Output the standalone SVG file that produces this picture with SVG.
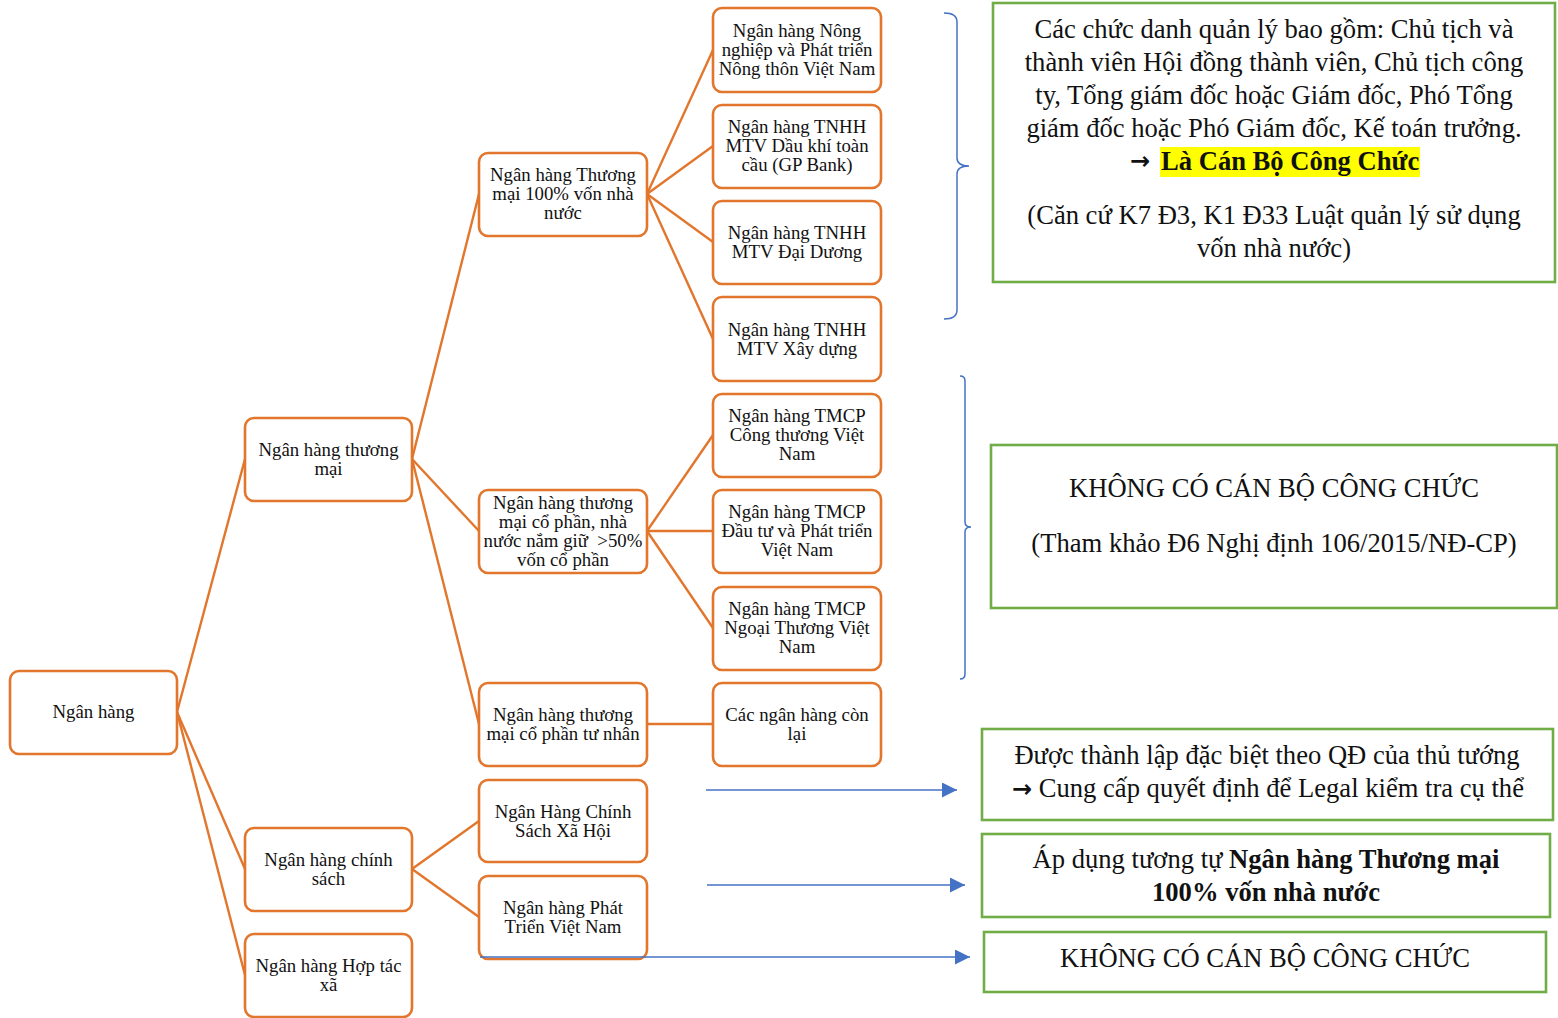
<svg xmlns="http://www.w3.org/2000/svg" width="1558" height="1018" viewBox="0 0 1558 1018">
<style>
.n rect{fill:#fff;stroke:#E1762C;stroke-width:2.6}
.n text{font-family:"Liberation Serif","Times New Roman",serif;font-size:18.8px;fill:#111;text-anchor:middle}
.g rect{fill:#fff;stroke:#70AD47;stroke-width:2.6}
.g text{font-family:"Liberation Serif","Times New Roman",serif;font-size:26.6px;fill:#111;text-anchor:middle}
.g .ar{font-family:"DejaVu Sans",sans-serif;font-weight:bold;font-size:24px}
.c line{stroke:#E1762C;stroke-width:2.4}
.a line{stroke:#4472C4;stroke-width:1.6}
.br{fill:none;stroke:#4472C4;stroke-width:1.5}
</style>
<defs>
<marker id="ah" markerWidth="15" markerHeight="15" viewBox="0 0 15 15" refX="15" refY="7.5" markerUnits="userSpaceOnUse" orient="auto">
<path d="M0,0 L15,7.5 L0,15 Z" fill="#4472C4"/>
</marker>
</defs>
<rect width="1558" height="1018" fill="#fff"/>

<g id="connectors" class="c">
<line x1="177" y1="712" x2="245" y2="459"/>
<line x1="177" y1="712" x2="245" y2="869"/>
<line x1="177" y1="712" x2="245" y2="975"/>
<line x1="412" y1="459" x2="479" y2="194"/>
<line x1="412" y1="459" x2="479" y2="531"/>
<line x1="412" y1="459" x2="479" y2="724"/>
<line x1="647" y1="194" x2="713" y2="50"/>
<line x1="647" y1="194" x2="713" y2="146"/>
<line x1="647" y1="194" x2="713" y2="242"/>
<line x1="647" y1="194" x2="713" y2="339"/>
<line x1="647" y1="531" x2="713" y2="435"/>
<line x1="647" y1="531" x2="713" y2="531"/>
<line x1="647" y1="531" x2="713" y2="628"/>
<line x1="647" y1="724" x2="713" y2="724"/>
<line x1="412" y1="869" x2="479" y2="821"/>
<line x1="412" y1="869" x2="479" y2="917"/>
</g>

<g id="n-root" class="n"><rect x="10" y="671" width="167" height="83" rx="9"/><text x="93.5" y="718">Ngân hàng</text></g>
<g id="n-nhtm" class="n"><rect x="245" y="418" width="167" height="83" rx="9"/><text x="328.5" y="456">Ngân hàng thương</text><text x="328.5" y="475">mại</text></g>
<g id="n-nhcs" class="n"><rect x="245" y="828" width="167" height="83" rx="9"/><text x="328.5" y="866">Ngân hàng chính</text><text x="328.5" y="885">sách</text></g>
<g id="n-htx" class="n"><rect x="245" y="934" width="167" height="83" rx="9"/><text x="328.5" y="972">Ngân hàng Hợp tác</text><text x="328.5" y="991">xã</text></g>

<g id="n-100" class="n"><rect x="479" y="153" width="168" height="83" rx="9"/><text x="563" y="181">Ngân hàng Thương</text><text x="563" y="200">mại 100% vốn nhà</text><text x="563" y="219">nước</text></g>
<g id="n-cpnn" class="n"><rect x="479" y="490" width="168" height="83" rx="9"/><text x="563" y="509">Ngân hàng thương</text><text x="563" y="528">mại cổ phần, nhà</text><text x="563" y="547">nước nắm giữ&#160; &gt;50%</text><text x="563" y="566">vốn cổ phần</text></g>
<g id="n-cptn" class="n"><rect x="479" y="683" width="168" height="83" rx="9"/><text x="563" y="721">Ngân hàng thương</text><text x="563" y="740">mại cổ phần tư nhân</text></g>
<g id="n-csxh" class="n"><rect x="479" y="780" width="168" height="82" rx="9"/><text x="563" y="818">Ngân Hàng Chính</text><text x="563" y="837">Sách Xã Hội</text></g>
<g id="n-ptvn" class="n"><rect x="479" y="876" width="168" height="83" rx="9"/><text x="563" y="914">Ngân hàng Phát</text><text x="563" y="933">Triển Việt Nam</text></g>

<g id="n-agri" class="n"><rect x="713" y="8" width="168" height="84" rx="9"/><text x="797" y="37">Ngân hàng Nông</text><text x="797" y="56">nghiệp và Phát triển</text><text x="797" y="75">Nông thôn Việt Nam</text></g>
<g id="n-gp" class="n"><rect x="713" y="105" width="168" height="83" rx="9"/><text x="797" y="133">Ngân hàng TNHH</text><text x="797" y="152">MTV Dầu khí toàn</text><text x="797" y="171">cầu (GP Bank)</text></g>
<g id="n-oj" class="n"><rect x="713" y="201" width="168" height="83" rx="9"/><text x="797" y="238.5">Ngân hàng TNHH</text><text x="797" y="257.5">MTV Đại Dương</text></g>
<g id="n-cb" class="n"><rect x="713" y="297" width="168" height="84" rx="9"/><text x="797" y="335.5">Ngân hàng TNHH</text><text x="797" y="354.5">MTV Xây dựng</text></g>
<g id="n-ctg" class="n"><rect x="713" y="394" width="168" height="83" rx="9"/><text x="797" y="422">Ngân hàng TMCP</text><text x="797" y="441">Công thương Việt</text><text x="797" y="460">Nam</text></g>
<g id="n-bidv" class="n"><rect x="713" y="490" width="168" height="83" rx="9"/><text x="797" y="518">Ngân hàng TMCP</text><text x="797" y="537">Đầu tư và Phát triển</text><text x="797" y="556">Việt Nam</text></g>
<g id="n-vcb" class="n"><rect x="713" y="587" width="168" height="83" rx="9"/><text x="797" y="615">Ngân hàng TMCP</text><text x="797" y="634">Ngoại Thương Việt</text><text x="797" y="653">Nam</text></g>
<g id="n-other" class="n"><rect x="713" y="683" width="168" height="83" rx="9"/><text x="797" y="721">Các ngân hàng còn</text><text x="797" y="740">lại</text></g>

<g id="braces">
<path class="br" d="M944,13 Q957,13 957,22 L957,158 Q957,166 969,166 Q957,166 957,174 L957,310 Q957,319 944,319"/>
<path class="br" d="M960,376 Q965,376 965,381 L965,522 Q965,527 971,527 Q965,527 965,532 L965,674 Q965,679 960,679"/>
</g>

<g id="arrows" class="a">
<line x1="706" y1="790" x2="957" y2="790" marker-end="url(#ah)"/>
<line x1="707" y1="885" x2="965" y2="885" marker-end="url(#ah)"/>
<line x1="480" y1="957" x2="970" y2="957" marker-end="url(#ah)"/>
</g>

<g id="g-note1" class="g">
<rect x="993" y="3" width="562" height="279"/>
<text x="1274" y="38">Các chức danh quản lý bao gồm: Chủ tịch và</text>
<text x="1274" y="71">thành viên Hội đồng thành viên, Chủ tịch công</text>
<text x="1274" y="104">ty, Tổng giám đốc hoặc Giám đốc, Phó Tổng</text>
<text x="1274" y="137">giám đốc hoặc Phó Giám đốc, Kế toán trưởng.</text>
<rect x="1160" y="147" width="260" height="30" style="fill:#FFFF00;stroke:none"/>
<text x="1130" y="169" class="ar" style="text-anchor:start">→</text>
<text x="1161" y="170" style="text-anchor:start;font-weight:bold">Là Cán Bộ Công Chức</text>
<text x="1274" y="224">(Căn cứ K7 Đ3, K1 Đ33 Luật quản lý sử dụng</text>
<text x="1274" y="257">vốn nhà nước)</text>
</g>
<g id="g-note2" class="g">
<rect x="991" y="445" width="566" height="163"/>
<text x="1274" y="497">KHÔNG CÓ CÁN BỘ CÔNG CHỨC</text>
<text x="1274" y="552">(Tham khảo Đ6 Nghị định 106/2015/NĐ-CP)</text>
</g>
<g id="g-note3" class="g">
<rect x="982" y="729" width="571" height="91"/>
<text x="1267" y="764">Được thành lập đặc biệt theo QĐ của thủ tướng</text>
<text x="1268" y="797"><tspan class="ar">→</tspan> Cung cấp quyết định để Legal kiểm tra cụ thể</text>
</g>
<g id="g-note4" class="g">
<rect x="982" y="834" width="568" height="83"/>
<text x="1266" y="868">Áp dụng tương tự <tspan font-weight="bold">Ngân hàng Thương mại</tspan></text>
<text x="1266" y="901" font-weight="bold">100% vốn nhà nước</text>
</g>
<g id="g-note5" class="g">
<rect x="984" y="932" width="562" height="60"/>
<text x="1265" y="967">KHÔNG CÓ CÁN BỘ CÔNG CHỨC</text>
</g>
</svg>
